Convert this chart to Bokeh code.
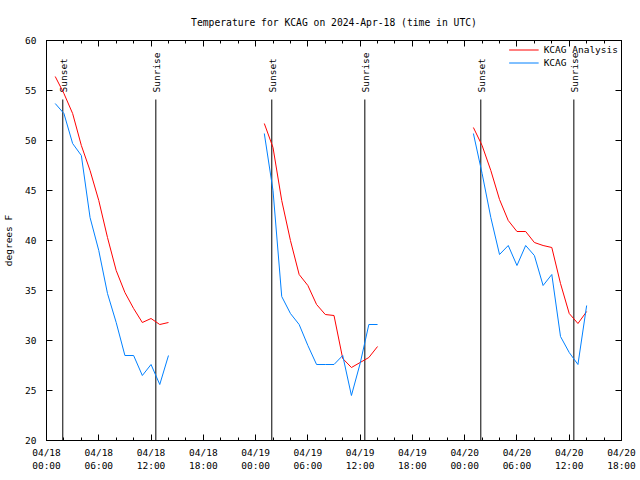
import math
from bokeh.plotting import figure
from bokeh.models import FixedTicker, LinearAxis, Range1d, Legend, LegendItem, ColumnDataSource
from bokeh.core.properties import value
from bokeh.embed import file_html
from bokeh.resources import INLINE

FONT = "DejaVu Sans Mono"
nan = float("nan")

# ---- data (hours since 04/18 00:00 UTC) ----
night1_hours = list(range(1, 15))
night2_hours = list(range(25, 39))
night3_hours = list(range(49, 63))

analysis1 = [56.4, 54.7, 52.7, 49.5, 47.0, 44.0, 40.3, 37.0, 34.8, 33.2, 31.8, 32.2, 31.6, 31.8]
analysis2 = [51.7, 49.3, 44.0, 40.0, 36.6, 35.5, 33.6, 32.6, 32.5, 28.2, 27.3, 27.8, 28.3, 29.4]
analysis3 = [51.3, 49.5, 47.0, 44.1, 42.0, 40.9, 40.9, 39.8, 39.5, 39.3, 35.7, 32.7, 31.7, 32.9]

obs1 = [53.7, 52.7, 49.7, 48.5, 42.3, 39.0, 34.7, 31.8, 28.5, 28.5, 26.5, 27.6, 25.6, 28.5]
obs2 = [50.7, 45.0, 34.4, 32.7, 31.6, 29.5, 27.6, 27.6, 27.6, 28.5, 24.5, 27.7, 31.6, 31.6]
obs3 = [50.7, 46.7, 42.3, 38.6, 39.5, 37.5, 39.5, 38.5, 35.5, 36.6, 30.4, 28.8, 27.6, 33.5]

sunset_hours = [1.87, 25.86, 49.85]
sunrise_hours = [12.55, 36.54, 60.53]

tick_hours = [0, 6, 12, 18, 24, 30, 36, 42, 48, 54, 60, 66]
tick_labels = ["04/18\n00:00", "04/18\n06:00", "04/18\n12:00", "04/18\n18:00",
               "04/19\n00:00", "04/19\n06:00", "04/19\n12:00", "04/19\n18:00",
               "04/20\n00:00", "04/20\n06:00", "04/20\n12:00", "04/20\n18:00"]
minor_hours = list(range(0, 67, 2))
y_ticks = [20, 25, 30, 35, 40, 45, 50, 55, 60]

hours = night1_hours + [nan] + night2_hours + [nan] + night3_hours
analysis = analysis1 + [nan] + analysis2 + [nan] + analysis3
obs = obs1 + [nan] + obs2 + [nan] + obs3

# ---- figure ----
p = figure(width=636, height=476,
           x_range=Range1d(0, 66), y_range=Range1d(20, 60),
           output_backend="svg", toolbar_location=None,
           min_border_left=46, min_border_right=15,
           min_border_top=40, min_border_bottom=36,
           title="Temperature for KCAG on 2024-Apr-18 (time in UTC)")
p.title.align = "center"
p.title.text_font = FONT
p.title.text_font_size = "9.7px"
p.title.text_font_style = "normal"
p.title.text_color = "black"
p.title.standoff = 26
p.grid.visible = False
p.outline_line_color = "black"
p.background_fill_color = "white"

xt = FixedTicker(ticks=tick_hours, minor_ticks=minor_hours)
yt = FixedTicker(ticks=y_ticks, minor_ticks=[])

def style(ax, labels=True):
    ax.axis_line_color = "black"
    ax.major_tick_line_color = "black"
    ax.minor_tick_line_color = "black"
    ax.major_tick_in = 6
    ax.major_tick_out = 0
    ax.minor_tick_in = 3
    ax.minor_tick_out = 0
    ax.major_label_text_font = FONT
    if labels:
        ax.major_label_text_font_size = "9.5px"
        ax.major_label_text_color = "black"
    else:
        ax.major_label_text_font_size = "1px"
        ax.major_label_text_color = None
        ax.major_label_standoff = 0

xa = p.xaxis[0]
xa.ticker = xt
xa.major_label_overrides = {h: l for h, l in zip(tick_hours, tick_labels)}
style(xa)
xa.major_label_standoff = 6

ya = p.yaxis[0]
ya.ticker = yt
style(ya)
ya.major_label_standoff = 10
ya.axis_label = "degrees F"
ya.axis_label_text_font = FONT
ya.axis_label_text_font_size = "9.5px"
ya.axis_label_text_font_style = "normal"
ya.axis_label_text_color = "black"
ya.axis_label_standoff = 8

top = LinearAxis(ticker=xt)
style(top, labels=False)
p.add_layout(top, "above")
right = LinearAxis(ticker=yt)
style(right, labels=False)
p.add_layout(right, "right")

# sunset / sunrise markers
sun_src = ColumnDataSource(dict(
    x=sunset_hours + sunrise_hours,
    y0=[20] * 6,
    y1=[54.1] * 6,
    ty=[54.8] * 6,
    label=["Sunset"] * 3 + ["Sunrise"] * 3,
))
p.segment(x0="x", y0="y0", x1="x", y1="y1", source=sun_src, line_color="black", line_width=1)
p.text(x="x", y="ty", text="label", source=sun_src, angle=math.pi / 2,
       text_align="left", text_baseline="middle", x_offset=1,
       text_font=value(FONT), text_font_size="9.5px", text_color="black")

r_an = p.line(hours, analysis, line_color="#ff0000", line_width=1)
r_obs = p.line(hours, obs, line_color="#0080ff", line_width=1)

legend = Legend(items=[LegendItem(label="KCAG Analysis", renderers=[r_an]),
                       LegendItem(label="KCAG", renderers=[r_obs])],
                location="top_right", border_line_color=None,
                background_fill_alpha=0, label_text_font=FONT,
                label_text_color="black",
                label_text_font_size="9.5px", glyph_width=30, glyph_height=13,
                label_height=13, spacing=0, padding=0, margin=3)
p.add_layout(legend)

open("out.html", "w").write(file_html(p, INLINE))
